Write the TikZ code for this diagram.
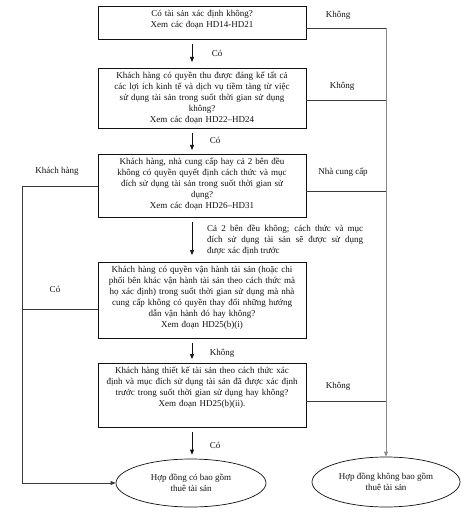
\documentclass[tikz,border=0pt]{standalone}
\usepackage{fontspec}
\setmainfont{Liberation Serif}
\usetikzlibrary{
  arrows.meta,
  positioning,
  calc,
  shapes.geometric
}
\definecolor{ink}{HTML}{111111}
\definecolor{wire}{HTML}{3A3A3A}
\definecolor{wiregray}{HTML}{8C8C8C}
\tikzset{
  >={Triangle[length=5pt,width=4pt]},
  every node/.style={font=\fontsize{9}{11}\selectfont, text=ink},
  qbox/.style={
    draw=ink,
    line width=0.8pt,
    text width=196pt,
    align=center,
    inner xsep=6pt,
    inner ysep=3pt,
    text height=7pt,
    anchor=north
  },
  outcome/.style={ellipse, draw=ink, line width=0.7pt, align=center, inner sep=0pt,
    minimum width=150pt, minimum height=48pt},
  flow/.style={->, line width=0.7pt, draw=ink, shorten <=4pt, shorten >=4pt},
  wire/.style={line width=0.7pt, draw=wire},
  annot/.style={inner sep=1pt}
}

\begin{document}
\begin{tikzpicture}[x=1pt, y=-1pt]
  \useasboundingbox (0,0) rectangle (468,521);
  \coordinate (spine) at (192,0);
  \coordinate (rside) at (386,0);
  \coordinate (lside) at (22,0);

  % questions
  \node[qbox, text depth=20pt] (b1) at (202,6) {Có tài sản xác định không?\\Xem các đoạn HD14-HD21};
  \node[qbox, text depth=47pt] (b2) at (202,68) {Khách hàng có quyền thu được đáng kể tất cả\\các lợi ích kinh tế và dịch vụ tiềm tàng từ việc\\sử dụng tài sản trong suốt thời gian sử dụng\\không?\\Xem các đoạn HD22--HD24};
  \node[qbox, text depth=50pt] (b3) at (202,154) {Khách hàng, nhà cung cấp hay cả 2 bên đều\\không có quyền quyết định cách thức và mục\\đích sử dụng tài sản trong suốt thời gian sử\\dụng?\\Xem các đoạn HD26--HD31};
  \node[qbox, text depth=63pt] (b4) at (202,262) {Khách hàng có quyền vận hành tài sản (hoặc chi\\phối bên khác vận hành tài sản theo cách thức mà\\họ xác định) trong suốt thời gian sử dụng mà nhà\\cung cấp không có quyền thay đổi những hướng\\dẫn vận hành đó hay không?\\Xem đoạn HD25(b)(i)};
  \node[qbox, text depth=51pt] (b5) at (202,363) {Khách hàng thiết kế tài sản theo cách thức xác\\định và mục đích sử dụng tài sản đã được xác định\\trước trong suốt thời gian sử dụng hay không?\\Xem đoạn HD25(b)(ii).};

  % outcomes
  \node[outcome] (e1) at (191,483) {Hợp đồng có bao gồm\\thuê tài sản};
  \node[outcome, minimum width=148pt, minimum height=50pt] (e2) at (386,482) {Hợp đồng không bao gồm\\thuê tài sản};

  % main path
  \draw[flow, shorten >=6pt] (b1.south -| spine) -- (b2.north -| spine);
  \draw[flow] (b2.south -| spine) -- (b3.north -| spine);
  \draw[flow, shorten >=7pt] (b3.south -| spine) -- (b4.north -| spine);
  \draw[flow] (b4.south -| spine) -- (b5.north -| spine);
  \draw[flow] (b5.south -| spine) -- (e1.north -| spine);

  \node[annot] (c1) at (217,53) {Có};
  \node[annot] (c2) at (215,140) {Có};
  \node[annot, anchor=north west, align=left] (c3) at (206,224)
    {\makebox[156pt][s]{Cả 2 bên đều không; cách thức và mục}\\
     \makebox[156pt][s]{đích sử dụng tài sản sẽ được sử dụng}\\
     được xác định trước};
  \node[annot] (c4) at (222,353) {Không};
  \node[annot] (c5) at (215,445) {Có};

  % right branch
  \draw[wire] ([yshift=-5.5pt]b1.east) -- ([yshift=-5.5pt]b1.east -| rside);
  \draw[wire] ([yshift=-2pt]b2.east) -- ([yshift=-2pt]b2.east -| rside);
  \draw[wire] ([yshift=-5.5pt]b3.east) -- ([yshift=-5.5pt]b3.east -| rside);
  \draw[wire] ([yshift=-6pt]b5.east) -- ([yshift=-6pt]b5.east -| rside);
  \draw[wire, draw=wiregray, ->] ([yshift=-5.5pt]b1.east -| rside) -- (e2.north);

  \node[annot] (n1) at (338,15) {Không};
  \node[annot] (n2) at (342,86) {Không};
  \node[annot] (n3) at (343,172) {Nhà cung cấp};
  \node[annot] (n4) at (338,386) {Không};

  % left branch
  \draw[wire] (b3.west) -- (b3.west -| lside);
  \draw[wire] ([yshift=-9pt]b4.west) -- ([yshift=-9pt]b4.west -| lside);
  \draw[wire, ->] (b3.west -| lside) -- (lside |- e1.west) -- (e1.west);

  \node[annot] (k1) at (57,171) {Khách hàng};
  \node[annot] (k2) at (55,289) {Có};
\end{tikzpicture}
\end{document}
